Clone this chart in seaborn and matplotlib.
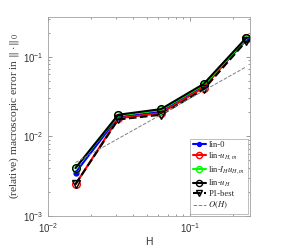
import numpy as np
import pandas as pd

import matplotlib
matplotlib.use("Agg")
import matplotlib.pyplot as plt
import seaborn as sns

# mesh sizes H = 1/64 ... 1/4
H = [1 / 64, 1 / 32, 1 / 16, 1 / 8, 1 / 4]

err_lin0 = [0.0035, 0.0175, 0.0205, 0.0430, 0.163]
err_lin_uHm = [0.0025, 0.0169, 0.0196, 0.0410, 0.172]
err_lin_IHuHm = [0.0040, 0.0183, 0.0215, 0.0445, 0.168]
err_lin_uH = [0.0040, 0.0187, 0.0220, 0.0456, 0.174]
err_p1best = [0.0025, 0.0163, 0.0187, 0.0390, 0.158]
ref_OH = [0.3 * h for h in H]

labels = ["lin-0", r"lin-$u_{H,m}$", r"lin-$I_H u_{H,m}$", r"lin-$u_H$", "P1-best", r"$O(H)$"]

sns.set_style("ticks")
plt.rcParams["font.family"] = ["Liberation Sans", "DejaVu Sans"]
plt.rcParams["mathtext.fontset"] = "stix"

df = pd.DataFrame({
    "H": H * 6,
    "err": err_lin0 + err_lin_uHm + err_lin_IHuHm + err_lin_uH + err_p1best + ref_OH,
    "method": sum([[lab] * len(H) for lab in labels], []),
})

styles = {
    labels[0]: dict(color="#0000ff", marker="o", ms=3.5, mfc="#0000ff", ls="-", lw=1.5),
    labels[1]: dict(color="#ff0000", marker="o", ms=5.5, mfc="none", ls="-", lw=1.5),
    labels[2]: dict(color="#00ff00", marker="o", ms=5.5, mfc="none", ls="-", lw=1.5),
    labels[3]: dict(color="black", marker="o", ms=5.5, mfc="none", ls="-", lw=1.5),
    labels[4]: dict(color="black", marker="v", ms=5.5, mfc="none", ls="--", lw=1.5),
    labels[5]: dict(color="#808080", marker=None, ls="--", lw=0.7),
}

fig = plt.figure(figsize=(2.81, 2.47), dpi=100)
ax = fig.add_axes([48 / 281, 31 / 247, 202 / 281, 199 / 247])

for lab in labels:
    st = styles[lab]
    sub = df[df["method"] == lab]
    sns.lineplot(data=sub, x="H", y="err", ax=ax, label=lab, color=st["color"],
                 marker=st["marker"], markersize=st.get("ms", 0),
                 markerfacecolor=st.get("mfc", "none"), markeredgecolor=st["color"],
                 markeredgewidth=1.0, linestyle=st["ls"], linewidth=st["lw"])

ax.set_xscale("log")
ax.set_yscale("log")
ax.set_xlim(0.01, 0.265)
ax.set_ylim(1e-3, 0.316)

for sp in ax.spines.values():
    sp.set_visible(True)
    sp.set_color("#a0a0a0")
    sp.set_linewidth(0.6)
ax.tick_params(which="both", direction="in", top=True, right=True,
               colors="#707070", labelcolor="#333333", labelsize=7, width=0.5)
ax.tick_params(which="major", length=3)
ax.tick_params(which="minor", length=1.5)

ax.set_xlabel("H", fontsize=7.5, color="#333333", labelpad=2)
ax.set_ylabel(r"(relative) macroscopic error in $\|\cdot\|_0$", fontsize=8.2,
              family=["Liberation Serif", "DejaVu Serif"], color="#333333", labelpad=1)

leg = ax.legend(loc="lower right", frameon=True, fancybox=False, markerscale=0.8,
                borderpad=0.3, labelspacing=0.2, handlelength=1.5, handletextpad=0.3,
                borderaxespad=0.25, prop={"family": ["Liberation Serif", "DejaVu Serif"], "size": 6.2})
leg.get_frame().set_edgecolor("#a0a0a0")
leg.get_frame().set_linewidth(0.6)

fig.savefig("out.png", dpi=100)
